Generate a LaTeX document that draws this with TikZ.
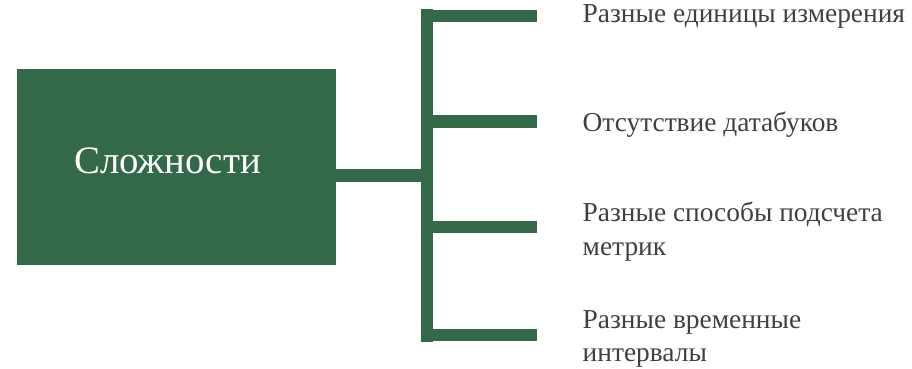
\documentclass[tikz,border=0pt]{standalone}
\usepackage{fontspec}
\setmainfont{Liberation Serif}
\definecolor{dgreen}{RGB}{51,105,72}
\definecolor{txtgray}{RGB}{64,64,64}
\begin{document}
\begin{tikzpicture}[x=1pt,y=-1pt,
  bar/.style={draw=dgreen,line width=12.6pt},
  item/.style={anchor=base west, inner sep=0pt, font=\fontsize{27.4}{33.5}\selectfont, text=txtgray, align=left}]
\useasboundingbox (0,0) rectangle (912,368);
\node[fill=dgreen, minimum width=319pt, minimum height=196pt, inner sep=0pt, anchor=north west,
  label={[text=white, font=\fontsize{38.8}{44}\selectfont, xshift=-9pt, yshift=6pt]center:Сложности}] (box) at (16.8,69) {};
\coordinate (j) at (426.85,175.3);
\coordinate (top) at (426.85,9.3);
\coordinate (bot) at (426.85,341.7);
\draw[bar] (box.east |- j) -- (j);
\draw[bar] (top) -- (bot);
\foreach \i/\y in {1/16,2/121.7,3/227,4/335}{
  \coordinate (s\i) at (420.7,\y);
  \coordinate (e\i) at (536.7,\y);
  \draw[bar] (s\i) -- (e\i);
}
\node[item] (t1) at (582.5,22.7) {Разные единицы измерения};
\node[item] (t2) at (582.5,131.7) {Отсутствие датабуков};
\node[item] (t3) at (582.5,255.2) {Разные способы подсчета\\метрик};
\node[item] (t4) at (582.5,361.7) {Разные временные\\интервалы};
\end{tikzpicture}
\end{document}
